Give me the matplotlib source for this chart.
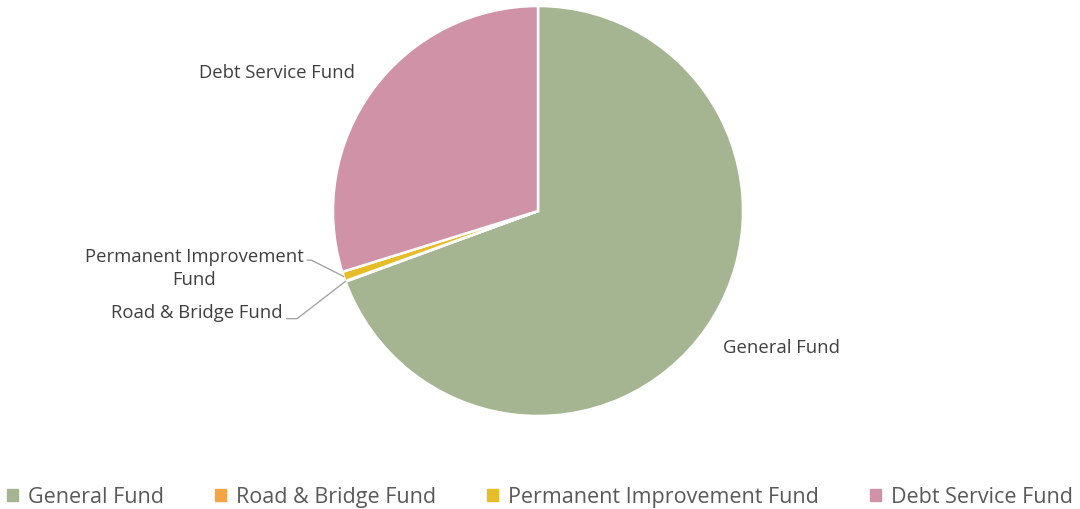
import numpy as np
import matplotlib.pyplot as plt

plt.rcParams['font.family'] = ['Open Sans', 'DejaVu Sans']

funds = ["General Fund", "Road & Bridge Fund", "Permanent Improvement Fund", "Debt Service Fund"]
shares = [69.4, 0.05, 0.75, 29.8]
colors = ["#A5B592", "#F3A447", "#E7BC29", "#D092A7"]

fig = plt.figure(figsize=(10.8, 5.1), dpi=100)
# pie centre ~ (538, 212) px, radius ~204 px
ax = fig.add_axes([(538 - 205) / 1080, (510 - 417) / 510, 410 / 1080, 410 / 510])
wedges, _ = ax.pie(shares, colors=colors, startangle=90, counterclock=False,
                   wedgeprops=dict(edgecolor="white", linewidth=1.8))
ax.set_xlim(-1, 1)
ax.set_ylim(-1, 1)
ax.set_aspect("equal")

def mid_angle(w):
    return np.deg2rad((w.theta1 + w.theta2) / 2)

txt = dict(fontsize=13.3, color="#404040")
ax.text(-1.275, 0.676, "Debt Service Fund", ha="center", va="center", **txt)
ax.text(1.186, -0.662, "General Fund", ha="center", va="center", **txt)
ax.text(-1.676, -0.275, "Permanent Improvement\nFund", ha="center", va="center",
        linespacing=1.35, **txt)
ax.text(-1.662, -0.495, "Road & Bridge Fund", ha="center", va="center", **txt)

# leader lines
line = dict(color="#A6A6A6", linewidth=1, clip_on=False)
a = mid_angle(wedges[2])
ax.plot([-1.125, -1.105, np.cos(a)], [-0.240, -0.240, np.sin(a)], **line)
a = mid_angle(wedges[1])
ax.plot([-1.225, -1.175, np.cos(a)], [-0.525, -0.525, np.sin(a)], **line)

handles = [plt.Rectangle((0, 0), 1, 1, color=c) for c in colors]
fig.legend(handles, funds, loc="lower center", bbox_to_anchor=(0.5, -0.035), ncol=4,
           frameon=False, fontsize=15.5, handlelength=0.5, handleheight=0.5,
           handletextpad=0.45, columnspacing=2.4, labelcolor="#595959")

fig.savefig("out.png", dpi=100)
